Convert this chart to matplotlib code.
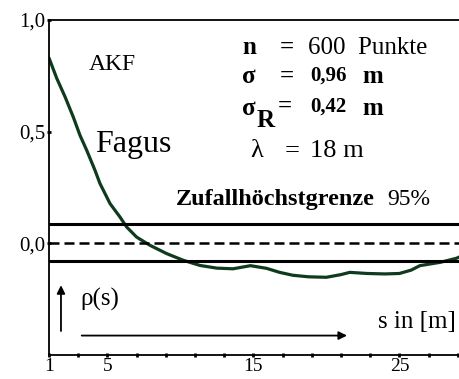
import matplotlib.pyplot as plt
import numpy as np

# autocorrelation curve
s_vals = [1.0, 1.53, 2.1, 2.66, 3.12, 3.58, 4.15, 4.49, 5.18, 5.86, 6.32, 7.0,
          7.92, 9.06, 10.2, 11.34, 12.49, 13.6, 14.8, 15.9, 16.8, 17.7, 18.8,
          20.0, 21.0, 21.6, 22.8, 24.0, 25.0, 25.8, 26.4, 27.8, 28.9, 29.15]
rho_vals = [0.83, 0.739, 0.656, 0.566, 0.484, 0.417, 0.327, 0.268, 0.178, 0.118,
            0.073, 0.028, -0.009, -0.046, -0.076, -0.099, -0.111, -0.114, -0.10,
            -0.112, -0.13, -0.143, -0.15, -0.152, -0.14, -0.13, -0.135, -0.137,
            -0.135, -0.12, -0.10, -0.085, -0.067, -0.06]

# 95% random limits
upper_limit = 0.085
lower_limit = -0.08

x_ticks = [1, 5, 15, 25]
x_minor = [3, 7, 9, 11, 13, 17, 19, 21, 23, 27, 29]
y_ticks = [0.0, 0.5, 1.0]
y_labels = ['0,0', '0,5', '1,0']

serif = 'Liberation Serif'
green = '#0f3b1c'

fig = plt.figure(figsize=(4.6, 3.79), dpi=100)
ax = fig.add_axes([49 / 460, 1 - 355 / 379, 1 - 49 / 460, (355 - 20) / 379])

ax.plot(s_vals, rho_vals, color=green, lw=2.3, solid_capstyle='round',
        solid_joinstyle='round')
ax.axhline(upper_limit, color='black', lw=2.2)
ax.axhline(lower_limit, color='black', lw=2.2)
ax.axhline(0.0, color='black', lw=1.8, ls=(0, (4, 2)))

ax.set_xlim(1, 29.15)
ax.set_ylim(-0.5, 1.0)

ax.set_xticks(x_ticks)
ax.set_xticklabels([str(v) for v in x_ticks], fontfamily=serif, fontsize=14)
ax.set_xticks(x_minor, minor=True)
ax.set_yticks(y_ticks)
ax.set_yticklabels(y_labels, fontfamily=serif, fontsize=15)
ax.tick_params(axis='both', which='both', direction='inout', length=3.5, width=2)
ax.tick_params(axis='x', which='major', pad=0.5)
ax.tick_params(axis='y', which='major', pad=1)

for side in ['left', 'bottom', 'top']:
    ax.spines[side].set_linewidth(1.3)
ax.spines['right'].set_visible(False)

# annotations
ax.text(3.74, 0.776, 'AKF', fontfamily=serif, fontsize=17)
ax.text(4.15, 0.408, 'Fagus', fontfamily=serif, fontsize=23)

ax.text(14.22, 0.85, 'n', fontfamily=serif, fontsize=18, fontweight='bold')
ax.text(16.82, 0.85, '=', fontfamily=serif, fontsize=18, fontweight='bold')
ax.text(18.74, 0.85, '600  Punkte', fontfamily=serif, fontsize=18)

ax.text(14.22, 0.717, 'σ', fontfamily=serif, fontsize=18, fontweight='bold')
ax.text(16.82, 0.717, '=', fontfamily=serif, fontsize=18, fontweight='bold')
ax.text(18.88, 0.73, '0,96', fontfamily=serif, fontsize=15, fontweight='bold')
ax.text(22.44, 0.717, 'm', fontfamily=serif, fontsize=18, fontweight='bold')

ax.text(14.22, 0.574, 'σ', fontfamily=serif, fontsize=18, fontweight='bold')
ax.text(15.25, 0.52, 'R', fontfamily=serif, fontsize=18, fontweight='bold')
ax.text(16.7, 0.585, '=', fontfamily=serif, fontsize=18, fontweight='bold')
ax.text(18.88, 0.59, '0,42', fontfamily=serif, fontsize=15, fontweight='bold')
ax.text(22.44, 0.574, 'm', fontfamily=serif, fontsize=18, fontweight='bold')

ax.text(14.77, 0.386, 'λ', fontfamily=serif, fontsize=19)
ax.text(17.16, 0.386, '=', fontfamily=serif, fontsize=19)
ax.text(18.88, 0.386, '18 m', fontfamily=serif, fontsize=19)

ax.text(9.7, 0.17, 'Zufallhöchstgrenze', fontfamily=serif, fontsize=17.5, fontweight='bold')
ax.text(24.15, 0.17, '95%', fontfamily=serif, fontsize=17)

ax.text(3.12, -0.278, 'ρ(s)', fontfamily=serif, fontsize=18)
ax.text(23.5, -0.377, 's in [m]', fontfamily=serif, fontsize=18)

ax.annotate('', xy=(1.82, -0.175), xytext=(1.82, -0.405),
            arrowprops=dict(arrowstyle='-|>', color='black', lw=1.3, mutation_scale=12))
ax.annotate('', xy=(21.6, -0.413), xytext=(3.05, -0.413),
            arrowprops=dict(arrowstyle='-|>', color='black', lw=1.3, mutation_scale=12))

fig.savefig('out.png', dpi=100)
